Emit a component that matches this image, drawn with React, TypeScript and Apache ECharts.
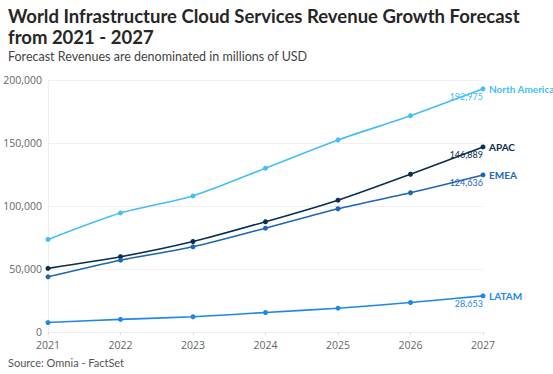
import React, { useEffect, useRef } from "react";
import * as echarts from "echarts";

const years = ["2021", "2022", "2023", "2024", "2025", "2026", "2027"];
const northAmerica = [73500, 94500, 108000, 130000, 152400, 171600, 192975];
const apac = [50500, 59700, 71800, 87500, 104600, 125200, 146889];
const emea = [43800, 57000, 67600, 82400, 97800, 110500, 124636];
const latam = [7500, 10000, 12100, 15500, 18900, 23400, 28653];

const seriesNames = ["North America", "APAC", "EMEA", "LATAM"];
const seriesColors = ["#45bdf7", "#0b2e4f", "#1c66b6", "#1e87e8"];
const seriesData = [northAmerica, apac, emea, latam];

const FONT = "Open Sans";
const FONT2 = "Lato";

export default function App() {
  const ref = useRef<HTMLDivElement>(null);
  useEffect(() => {
    if (!ref.current) return;
    const chart = echarts.init(ref.current, null, { renderer: "svg" });
    const fmt = (v: number) => v.toLocaleString("en-US");
    chart.setOption({
      animation: false,
      textStyle: { fontFamily: FONT },
      title: [
        {
          text: "World Infrastructure Cloud Services Revenue Growth Forecast",
          left: 8,
          top: 5,
          padding: 0,
          textStyle: { fontFamily: FONT2, fontSize: 18.5, fontWeight: "bold", color: "#262626", lineHeight: 21 },
        },
        {
          text: "from 2021 - 2027",
          left: 8,
          top: 26,
          padding: 0,
          textStyle: { fontFamily: FONT2, fontSize: 18.5, fontWeight: "bold", color: "#262626", lineHeight: 21 },
        },
        {
          text: "Forecast Revenues are denominated in millions of USD",
          left: 8,
          top: 50,
          padding: 0,
          textStyle: { fontFamily: FONT2, fontSize: 12.5, fontWeight: "normal", color: "#444" },
        },
        {
          text: "Source: Omnia - FactSet",
          left: 8,
          top: 357,
          padding: 0,
          textStyle: { fontFamily: FONT2, fontSize: 11, fontWeight: "normal", color: "#555" },
        },
      ],
      grid: { left: 48, right: 70, top: 80, bottom: 42 },
      xAxis: {
        type: "category",
        data: years,
        boundaryGap: false,
        axisLine: { show: true, lineStyle: { color: "#eeeeee" } },
        axisTick: { show: true, alignWithLabel: true, length: 3, lineStyle: { color: "#dddddd" } },
        axisLabel: { color: "#666", fontSize: 10.5, margin: 7 },
        splitLine: { show: false },
      },
      yAxis: {
        type: "value",
        min: 0,
        max: 200000,
        interval: 50000,
        axisLine: { show: true, lineStyle: { color: "#eeeeee" } },
        axisTick: { show: false },
        axisLabel: { color: "#666", fontSize: 10.5, margin: 6, formatter: (v: number) => fmt(v) },
        splitLine: { show: true, lineStyle: { color: "#f0f0f0" } },
      },
      series: seriesNames.map((name, i) => {
        const d = seriesData[i];
        return {
          name,
          type: "line",
          smooth: 0.25,
          symbol: "circle",
          symbolSize: 5,
          lineStyle: { width: 1.6, color: seriesColors[i] },
          itemStyle: { color: seriesColors[i] },
          data: d.map((v, j) =>
            j === d.length - 1
              ? {
                  value: v,
                  label: {
                    show: true,
                    position: "bottom",
                    align: "right",
                    distance: 1,
                    formatter: () => fmt(v),
                    color: seriesColors[i],
                    fontFamily: FONT2,
                    fontSize: 9,
                  },
                }
              : v
          ),
          endLabel: {
            show: true,
            formatter: name,
            color: seriesColors[i],
            fontFamily: FONT2,
            fontWeight: "bold",
            fontSize: 10,
            distance: 6,
          },
        };
      }),
    });
    return () => chart.dispose();
  }, []);
  return <div ref={ref} style={{ width: 553, height: 374, position: "absolute", left: 0, top: 0 }} />;
}
